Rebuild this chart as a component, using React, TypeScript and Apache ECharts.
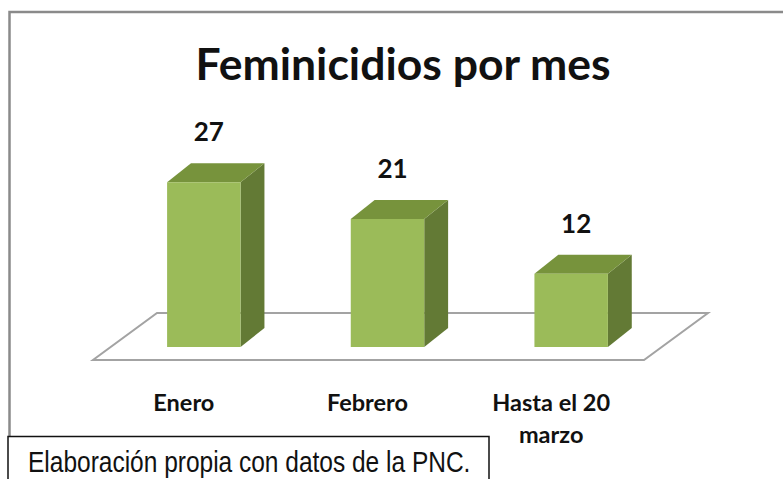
import React, { useEffect, useRef } from "react";
import * as echarts from "echarts";

const TITLE = "Feminicidios por mes";
const categories = ["Enero", "Febrero", "Hasta el 20\nmarzo"];
const values = [27, 21, 12];
const SOURCE = "Elaboración propia con datos de la PNC.";

const FRONT = "#9BBB59";
const TOP = "#77933C";
const SIDE = "#637A35";

export default function App() {
  const ref = useRef<HTMLDivElement>(null);

  useEffect(() => {
    document.body.style.margin = "0";
    if (!ref.current) return;
    const chart = echarts.init(ref.current, undefined, { renderer: "svg" });

    const option: any = {
      animation: false,
      backgroundColor: "#ffffff",
      grid: { left: 112, right: 120, top: 164, bottom: 132 },
      xAxis: {
        type: "category",
        data: categories,
        boundaryGap: true,
        axisLine: { show: false },
        axisTick: { show: false },
        splitLine: { show: false },
        axisLabel: {
          margin: 39,
          fontFamily: "Lato, 'Noto Sans', sans-serif",
          fontWeight: "bold",
          fontSize: 23.5,
          lineHeight: 32,
          color: "#111111",
          padding: [0, 40, 0, 0],
          interval: 0,
        },
      },
      yAxis: {
        type: "value",
        min: 0,
        max: 30,
        show: false,
      },
      series: [
        {
          type: "custom",
          name: "floor",
          data: [[0, 0]],
          z: 1,
          silent: true,
          renderItem: (params: any, api: any) => {
            const cs = params.coordSys;
            const base = api.coord([0, 0])[1];
            const x0 = cs.x - 19;
            const x1 = cs.x + cs.width - 19;
            const shift = 64;
            const yb = base + 13;
            const yt = base - 34;
            return {
              type: "polygon",
              shape: {
                points: [
                  [x0, yb],
                  [x1, yb],
                  [x1 + shift, yt],
                  [x0 + shift, yt],
                ],
              },
              style: { fill: "#ffffff", stroke: "#a3a3a3", lineWidth: 2 },
            };
          },
        },
        {
          type: "custom",
          name: "Feminicidios",
          data: values.map((v, i) => [i, v]),
          encode: { x: 0, y: 1 },
          z: 2,
          renderItem: (params: any, api: any) => {
            const idx = api.value(0);
            const val = api.value(1);
            const topPt = api.coord([idx, val]);
            const basePt = api.coord([idx, 0]);
            const band = api.size([1, 0])[0];
            const hw = band * 0.2;
            const dx = band * 0.13;
            const dy = 19;
            const cx = topPt[0];
            const ty = topPt[1];
            const by = basePt[1];
            return {
              type: "group",
              children: [
                {
                  type: "polygon",
                  shape: {
                    points: [
                      [cx + hw, ty],
                      [cx + hw + dx, ty - dy],
                      [cx + hw + dx, by - dy],
                      [cx + hw, by],
                    ],
                  },
                  style: { fill: SIDE },
                },
                {
                  type: "polygon",
                  shape: {
                    points: [
                      [cx - hw, ty],
                      [cx - hw + dx, ty - dy],
                      [cx + hw + dx, ty - dy],
                      [cx + hw, ty],
                    ],
                  },
                  style: { fill: TOP },
                },
                {
                  type: "rect",
                  shape: { x: cx - hw, y: ty, width: hw * 2, height: by - ty },
                  style: { fill: FRONT },
                },
                {
                  type: "text",
                  x: cx + 5,
                  y: ty - dy - 32,
                  style: {
                    text: String(val),
                    fontFamily: "Lato, 'Noto Sans', sans-serif",
                    fontWeight: "bold",
                    fontSize: 26,
                    fill: "#111111",
                    align: "center",
                    verticalAlign: "middle",
                  },
                },
              ],
            };
          },
        },
      ],
      graphic: [
        {
          type: "polyline",
          silent: true,
          z: 0,
          shape: {
            points: [
              [9.5, 479],
              [9.5, 12],
              [790, 12],
            ],
          },
          style: { stroke: "#8a8a8a", lineWidth: 2.5, fill: "none" },
        },
        {
          type: "text",
          x: 403,
          y: 62,
          style: {
            text: TITLE,
            fontFamily: "Lato, 'Noto Sans', sans-serif",
            fontWeight: "bold",
            fontSize: 44.5,
            fill: "#111111",
            align: "center",
            verticalAlign: "middle",
          },
        },
        {
          type: "rect",
          z: 10,
          shape: { x: 8, y: 436.5, width: 481, height: 60 },
          style: { fill: "#ffffff", stroke: "#111111", lineWidth: 1.5 },
        },
        {
          type: "text",
          z: 11,
          x: 28,
          y: 462,
          scaleX: 0.845,
          style: {
            text: SOURCE,
            fontFamily: "'Liberation Sans', Arial, sans-serif",
            fontSize: 29,
            fill: "#111111",
            align: "left",
            verticalAlign: "middle",
          },
        },
      ],
    };

    chart.setOption(option);
    return () => chart.dispose();
  }, []);

  return (
    <div
      ref={ref}
      style={{ position: "absolute", left: 0, top: 0, width: 783, height: 479 }}
    />
  );
}
